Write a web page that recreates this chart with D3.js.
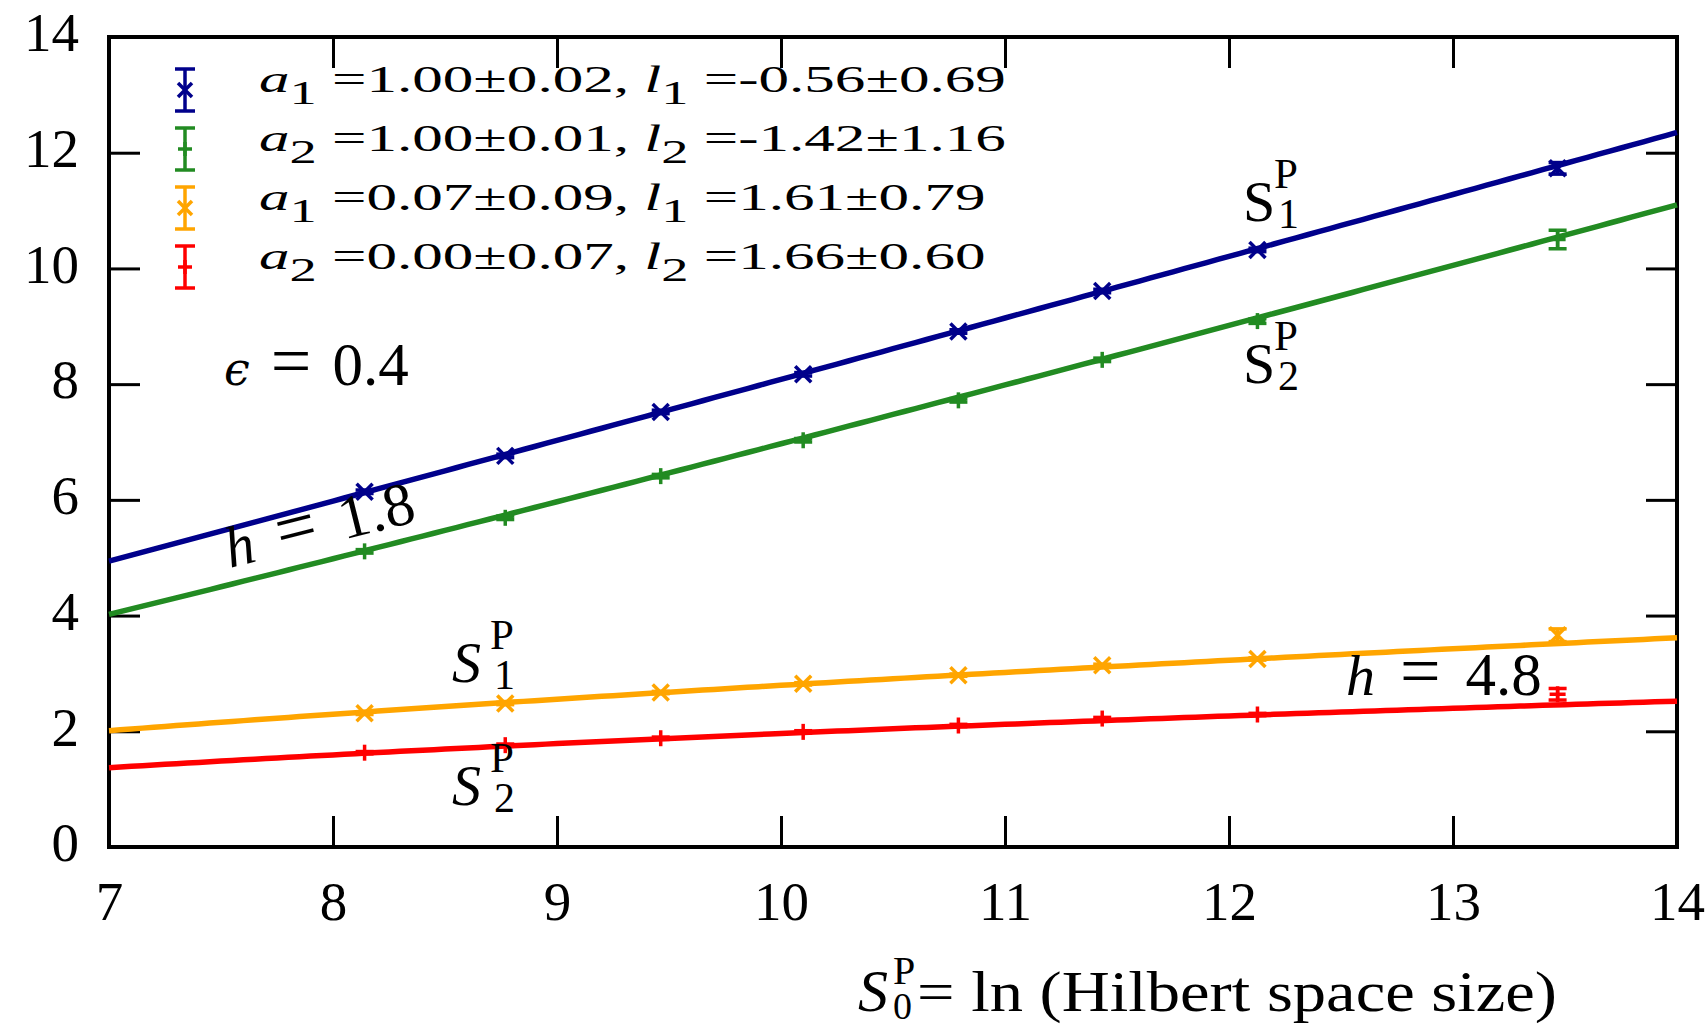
<!DOCTYPE html>
<html>
<head>
<meta charset="utf-8">
<script src="https://cdn.jsdelivr.net/npm/d3@7"></script>
<style>
  body { margin: 0; background: #fff; }
  text { font-family: "Liberation Serif", "DejaVu Serif", serif; fill: #000; white-space: pre; }
</style>
</head>
<body>
<svg id="chart" width="1705" height="1025"></svg>
<script>
// S0 = ln(Hilbert space size) for each system size
const hilbertLog = [8.141, 8.769, 9.463, 10.099, 10.792, 11.434, 12.127, 13.467];

// Participation entropies, h = 1.8
const s1LowH    = [6.14, 6.76, 7.52, 8.17, 8.91, 9.61, 10.32, 11.73];
const s1LowHErr = [0.03, 0.03, 0.03, 0.03, 0.03, 0.03, 0.03, 0.10];
const s2LowH    = [5.11, 5.69, 6.41, 7.03, 7.72, 8.42, 9.09, 10.50];
const s2LowHErr = [0.03, 0.03, 0.03, 0.03, 0.03, 0.03, 0.04, 0.16];

// Participation entropies, h = 4.8
const s1HighH    = [2.31, 2.48, 2.67, 2.82, 2.97, 3.14, 3.25, 3.66];
const s1HighHErr = [0.02, 0.02, 0.02, 0.02, 0.02, 0.02, 0.02, 0.11];
const s2HighH    = [1.63, 1.76, 1.88, 1.99, 2.10, 2.22, 2.29, 2.64];
const s2HighHErr = [0.02, 0.02, 0.02, 0.02, 0.02, 0.02, 0.02, 0.10];

// Fitted curves S = c1*S0 + l*ln(S0) + c0, one entry per series
const fitLinear = [1.114, 1.152, 0.07, 0.00];
const fitLog    = [-0.56, -1.42, 1.61, 1.66];
const fitOffset = [-1.768, -1.281, -1.613, -1.860];

// Legend: fit parameters
const legendIndex = ["1", "2", "1", "2"];
const legendA = ["1.00±0.02", "1.00±0.01", "0.07±0.09", "0.00±0.07"];
const legendL = ["-0.56±0.69", "-1.42±1.16", "1.61±0.79", "1.66±0.60"];

const xTicks = [7, 8, 9, 10, 11, 12, 13, 14];
const yTicks = [0, 2, 4, 6, 8, 10, 12, 14];

const series = [
  { vals: s1LowH,  err: s1LowHErr,  color: "#00008b", marker: "x" },
  { vals: s2LowH,  err: s2LowHErr,  color: "#228b22", marker: "+" },
  { vals: s1HighH, err: s1HighHErr, color: "#ffa500", marker: "x" },
  { vals: s2HighH, err: s2HighHErr, color: "#ff0000", marker: "+" }
];

const svg = d3.select("#chart");
const plot = { left: 109, right: 1677, top: 37, bottom: 847 };
const x = d3.scaleLinear().domain([7, 14]).range([plot.left, plot.right]);
const y = d3.scaleLinear().domain([0, 14]).range([plot.bottom, plot.top]);

// Axes with inward ticks on all four sides
const tickLen = 31;
function styleAxis(g) {
  g.select(".domain").remove();
  g.selectAll(".tick line").attr("stroke", "#000").attr("stroke-width", 3);
  g.selectAll(".tick text").attr("font-size", 55).attr("fill", "#000")
    .style("font-family", "'Liberation Serif', serif");
}
svg.append("g").attr("transform", `translate(0,${plot.bottom})`)
  .call(d3.axisBottom(x).tickValues(xTicks).tickFormat(d3.format("d")).tickSize(-tickLen).tickPadding(34))
  .call(styleAxis);
svg.append("g").attr("transform", `translate(0,${plot.top})`)
  .call(d3.axisTop(x).tickValues(xTicks).tickFormat("").tickSize(-tickLen))
  .call(styleAxis);
svg.append("g").attr("transform", `translate(${plot.left},0)`)
  .call(d3.axisLeft(y).tickValues(yTicks).tickFormat(d3.format("d")).tickSize(-tickLen).tickPadding(30))
  .call(styleAxis)
  .selectAll(".tick text").attr("dy", "0.25em");
svg.append("g").attr("transform", `translate(${plot.right},0)`)
  .call(d3.axisRight(y).tickValues(yTicks).tickFormat("").tickSize(-tickLen))
  .call(styleAxis);

svg.append("rect")
  .attr("x", x(7)).attr("y", y(14))
  .attr("width", x(14) - x(7)).attr("height", y(0) - y(14))
  .attr("fill", "none").attr("stroke", "#000").attr("stroke-width", 4);

// Marker helpers
function drawMarker(g, cx, cy, type, color, r = 8) {
  const m = g.append("g").attr("stroke", color).attr("stroke-width", 3.5).attr("fill", "none");
  if (type === "x") {
    m.append("line").attr("x1", cx - r).attr("y1", cy - r).attr("x2", cx + r).attr("y2", cy + r);
    m.append("line").attr("x1", cx - r).attr("y1", cy + r).attr("x2", cx + r).attr("y2", cy - r);
  } else {
    m.append("line").attr("x1", cx - r).attr("y1", cy).attr("x2", cx + r).attr("y2", cy);
    m.append("line").attr("x1", cx).attr("y1", cy - r).attr("x2", cx).attr("y2", cy + r);
  }
}
function drawErrorBar(g, cx, y1, y2, color, cap = 10) {
  const e = g.append("g").attr("stroke", color).attr("stroke-width", 3.5);
  e.append("line").attr("x1", cx).attr("x2", cx).attr("y1", y1).attr("y2", y2);
  e.append("line").attr("x1", cx - cap).attr("x2", cx + cap).attr("y1", y1).attr("y2", y1);
  e.append("line").attr("x1", cx - cap).attr("x2", cx + cap).attr("y1", y2).attr("y2", y2);
}

// Fitted curves over the full S0 range
const s0Grid = d3.range(7, 14.0001, 0.05);
const line = d3.line().x(d => x(d[0])).y(d => y(d[1]));
series.forEach((s, i) => {
  const pts = s0Grid.map(s0 => [s0, fitLinear[i] * s0 + fitLog[i] * Math.log(s0) + fitOffset[i]]);
  svg.append("path")
    .datum(pts)
    .attr("d", line)
    .attr("fill", "none").attr("stroke", s.color).attr("stroke-width", 5.5);
});

// Data points with error bars
series.forEach(s => {
  const g = svg.append("g");
  hilbertLog.forEach((sx, i) => {
    const v = s.vals[i], e = s.err[i];
    drawErrorBar(g, x(sx), y(v + e), y(v - e), s.color, 9);
    drawMarker(g, x(sx), y(v), s.marker, s.color);
  });
});

// Legend
const legendX = 185, legendY0 = 90, legendStep = 59, textX = 259;
const rows = [];
series.forEach((s, i) => {
  const cy = legendY0 + i * legendStep;
  const g = svg.append("g");
  drawErrorBar(g, legendX, cy - 21, cy + 21, s.color, 10);
  drawMarker(g, legendX, cy, s.marker, s.color, 7);

  const t = svg.append("text").attr("font-size", 37);
  t.append("tspan").attr("font-style", "italic").text("a");
  t.append("tspan").attr("font-size", 33).attr("dy", 12).text(legendIndex[i]);
  t.append("tspan").attr("dy", -12).text(" =" + legendA[i] + ", ");
  t.append("tspan").attr("font-style", "italic").text("l");
  t.append("tspan").attr("font-size", 33).attr("dy", 12).text(legendIndex[i]);
  t.append("tspan").attr("dy", -12).text(" =" + legendL[i]);
  rows.push({ t, base: cy + 2 });
});
const stretch = (1006 - textX) / rows[0].t.node().getComputedTextLength();
rows.forEach(r => r.t.attr("transform", `translate(${textX},${r.base}) scale(${stretch},1)`));

// Math-style annotation: symbol, wide "=", value
function mathText(parent, symbol, value, gap, symbolFont) {
  const t = parent.append("text").attr("font-size", 58);
  const s = t.append("tspan").attr("font-style", "italic").text(symbol);
  if (symbolFont) s.style("font-family", symbolFont).attr("font-size", 46);
  t.append("tspan").attr("dx", gap).attr("font-size", 72).text("=");
  t.append("tspan").attr("dx", gap).attr("font-size", 61).text(value);
  return t;
}
const ann = svg.append("g");
mathText(ann, "ϵ", "0.4", 21, "'DejaVu Serif', serif").attr("x", 224).attr("y", 385);
mathText(ann, "h", "1.8", 24).attr("transform", "translate(230,568) rotate(-14)");
mathText(ann, "h", "4.8", 25).attr("x", 1346).attr("y", 695);

// Entropy labels S_q^P
function entropyLabel(sx, sy, idx, italic) {
  const g = svg.append("g");
  g.append("text").attr("x", sx).attr("y", sy).attr("font-size", 58)
    .attr("font-style", italic ? "italic" : "normal").text("S");
  const off = italic ? 38 : 31;
  g.append("text").attr("x", sx + off).attr("y", sy - 33).attr("font-size", 43).text("P");
  g.append("text").attr("x", sx + off + 4).attr("y", sy + 7).attr("font-size", 42).text(idx);
}
entropyLabel(1243, 221, "1", false);
entropyLabel(1243, 383, "2", false);
entropyLabel(452, 682, "1", true);
entropyLabel(452, 805, "2", true);

// X-axis title
const title = svg.append("g");
title.append("text").attr("x", 858).attr("y", 1011).attr("font-size", 60).attr("font-style", "italic").text("S");
title.append("text").attr("x", 893).attr("y", 984).attr("font-size", 40).text("P");
title.append("text").attr("x", 893).attr("y", 1019).attr("font-size", 38).text("0");
title.append("text").attr("x", 917).attr("y", 1011).attr("font-size", 58)
  .attr("textLength", 640).attr("lengthAdjust", "spacingAndGlyphs")
  .text("= ln (Hilbert space size)");
</script>
</body>
</html>
